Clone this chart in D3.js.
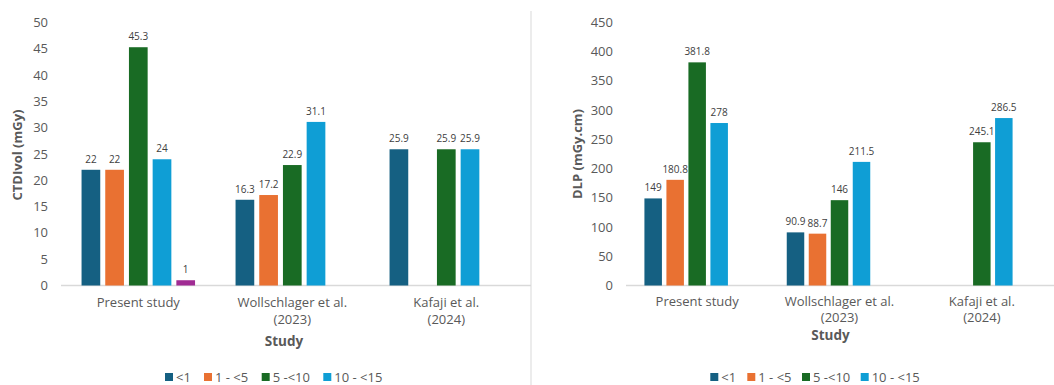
<!DOCTYPE html>
<html><head><meta charset="utf-8">
<script src="https://cdn.jsdelivr.net/npm/d3@7"></script>
<style>
html,body{margin:0;padding:0;background:#fff;}
svg{display:block;font-family:"Open Sans","Liberation Sans",sans-serif;}
</style></head>
<body><svg id="c" width="1054" height="385"></svg>
<script>
const studies = [["Present study"], ["Wollschlager et al.", "(2023)"], ["Kafaji et al.", "(2024)"]];
const seriesNames = ["<1", "1 - <5", "5 -<10", "10 - <15", "15 - <18"];
const legendNames = ["<1", "1 - <5", "5 -<10", "10 - <15"];
const colors = ["#156082", "#E97132", "#196B24", "#0F9ED5", "#A02B93"];
// CTDIvol values per study, per series (null = no bar)
const ctdiPresent = [22, 22, 45.3, 24, 1];
const ctdiWoll = [16.3, 17.2, 22.9, 31.1, null];
const ctdiKafaji = [25.9, null, 25.9, 25.9, null];
// DLP values
const dlpPresent = [149, 180.8, 381.8, 278, null];
const dlpWoll = [90.9, 88.7, 146, 211.5, null];
const dlpKafaji = [null, null, 245.1, 286.5, null];
const ctdiTicks = [0,5,10,15,20,25,30,35,40,45,50];
const dlpTicks = [0,50,100,150,200,250,300,350,400,450];

const svg = d3.select("#c");

function panel(cfg){
  const g = svg.append("g");
  const y = d3.scaleLinear().domain([0, cfg.max]).range([285.5, 22.5]);
  const x0 = d3.scaleBand().domain(d3.range(3)).range(cfg.xr).paddingInner(0).paddingOuter(0);
  const x1 = d3.scaleBand().domain(d3.range(5)).range([0, cfg.slot*5]).paddingInner(0);
  const groupOff = (x0.bandwidth() - cfg.slot*5)/2;
  // baseline
  g.append("line").attr("x1", cfg.base[0]).attr("x2", cfg.base[1])
    .attr("y1", y(0)).attr("y2", y(0)).attr("stroke", "#d9d9d9").attr("stroke-width", 1.3);
  // y ticks
  g.selectAll("text.yt").data(cfg.ticks).enter().append("text")
    .attr("x", cfg.tickX).attr("y", d => y(d)).attr("dy", "0.35em")
    .attr("text-anchor", "end").attr("font-size", 13).attr("fill", "#595959").text(d => d);
  // bars
  cfg.data.forEach((vals, gi) => {
    vals.forEach((v, si) => {
      if (v === null) return;
      const bx = x0(gi) + groupOff + x1(si) + (cfg.slot - cfg.bw)/2;
      g.append("rect").attr("x", bx).attr("y", y(v)).attr("width", cfg.bw)
        .attr("height", y(0) - y(v)).attr("fill", colors[si]);
      g.append("text").attr("x", bx + cfg.bw/2).attr("y", y(v) - 7)
        .attr("text-anchor", "middle").attr("font-size", 10).attr("fill", "#404040").text(v);
    });
  });
  // category labels
  studies.forEach((lines, gi) => {
    const cx = x0(gi) + x0.bandwidth()/2;
    lines.forEach((t, li) => {
      g.append("text").attr("x", cx).attr("y", cfg.catY + li*cfg.catLH)
        .attr("text-anchor", "middle").attr("font-size", 13).attr("fill", "#595959").text(t);
    });
  });
  // axis titles
  g.append("text").attr("x", cfg.studyX).attr("y", cfg.studyY).attr("text-anchor", "middle")
    .attr("font-size", 13.5).attr("font-weight", "bold").attr("fill", "#595959").text("Study");
  g.append("text").attr("transform", `translate(${cfg.ytX},${cfg.ytY}) rotate(-90)`)
    .attr("text-anchor", "middle").attr("font-size", 13).attr("font-weight", "bold")
    .attr("fill", "#595959").text(cfg.ytitle);
  // legend
  cfg.legX.forEach((lx, i) => {
    g.append("rect").attr("x", lx).attr("y", cfg.legY - 4).attr("width", 8).attr("height", 8).attr("fill", colors[i]);
    g.append("text").attr("x", lx + 11).attr("y", cfg.legY).attr("dy", "0.35em")
      .attr("font-size", 13).attr("fill", "#595959").text(legendNames[i]);
  });
}

panel({max: 50, ticks: ctdiTicks, xr: [61.3, 523.3], base: [61, 531], slot: 23.7, bw: 18.7,
  tickX: 48, data: [ctdiPresent, ctdiWoll, ctdiKafaji], catY: 307, catLH: 16.5,
  studyX: 284, studyY: 346, ytX: 22, ytY: 155, ytitle: "CTDIvol (mGy)",
  legX: [165, 204, 261.7, 323.3], legY: 377});
panel({max: 450, ticks: dlpTicks, xr: [626, 1053], base: [626, 1054], slot: 22, bw: 17.5,
  tickX: 613, data: [dlpPresent, dlpWoll, dlpKafaji], catY: 305.5, catLH: 16.5,
  studyX: 830.5, studyY: 340, ytX: 582, ytY: 154, ytitle: "DLP (mGy.cm)",
  legX: [710.3, 747.3, 802, 860.7], legY: 377});

// divider
svg.append("line").attr("x1", 531).attr("x2", 531).attr("y1", 11).attr("y2", 385)
  .attr("stroke", "#d9d9d9").attr("stroke-width", 1);
</script></body></html>
